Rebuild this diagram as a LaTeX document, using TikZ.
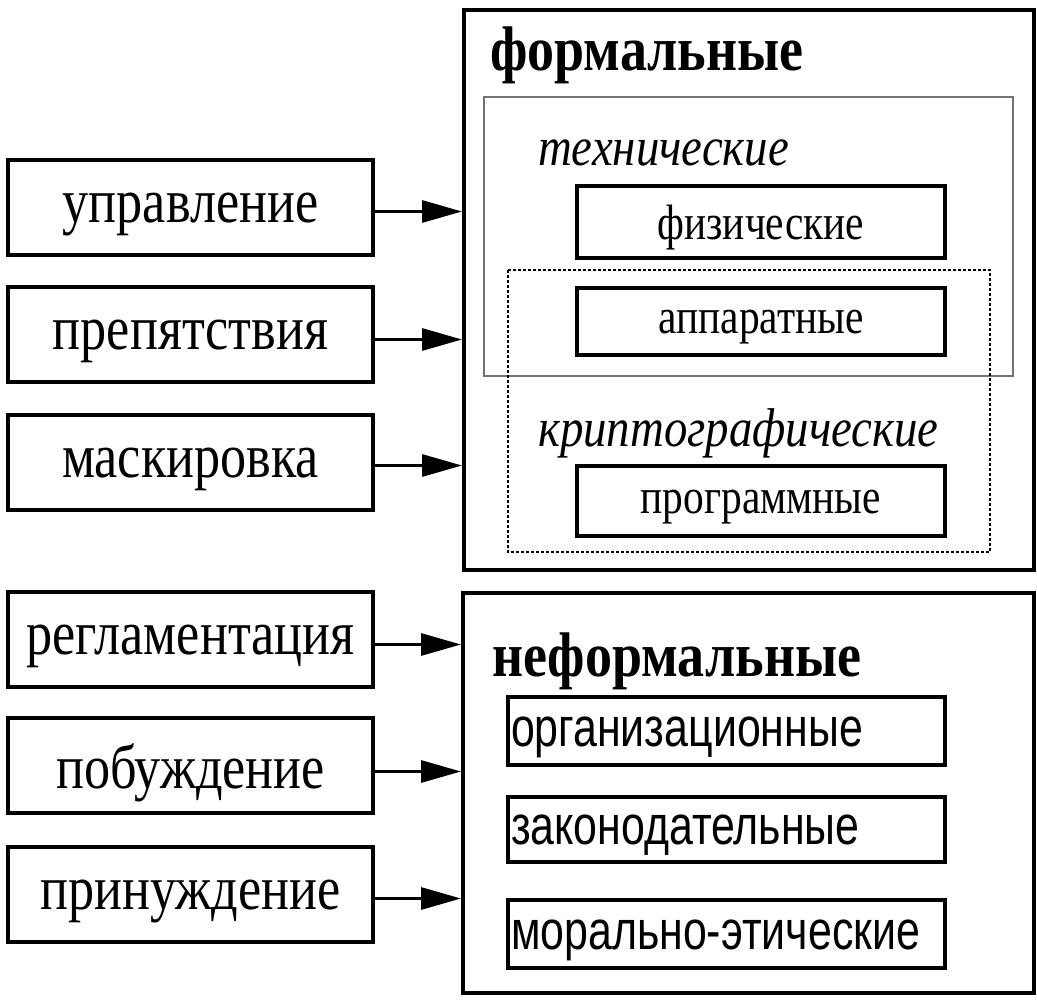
\documentclass[tikz,border=0pt]{standalone}
\usepackage{fontspec}
\setmainfont{Liberation Serif}
\newfontfamily\narrowsans{Liberation Sans}
\usetikzlibrary{arrows.meta}
\newcommand{\lbltxt}[1]{\raisebox{-7pt}[\height][\depth]{\scalebox{0.9}[1.08]{\fontsize{58}{60}\selectfont #1}}}
\newcommand{\innertxt}[1]{\raisebox{-6pt}[\height][\depth]{\scalebox{0.9}[1.08]{\fontsize{46}{48}\selectfont #1}}}
\newcommand{\ttltxt}[1]{\scalebox{0.9}[1.05]{\fontsize{60}{62}\selectfont\bfseries #1}}
\newcommand{\ittxt}[1]{\scalebox{0.9}[1.05]{\fontsize{52}{54}\selectfont\itshape #1}}
\newcommand{\sanstxt}[1]{\raisebox{-6pt}[\height][\depth]{\scalebox{0.78}[1]{\fontsize{55}{57}\selectfont\narrowsans #1}}}
\begin{document}
\begin{tikzpicture}[x=1pt,y=-1pt,
  leftbox/.style={draw,line width=4pt,minimum width=365pt,minimum height=95pt,inner sep=0pt},
  bigbox/.style={draw,line width=4pt,inner sep=0pt},
  innerbox/.style={draw,line width=4pt,minimum width=368pt,inner sep=0pt},
  sansbox/.style={draw,line width=3.5pt,minimum width=437pt,inner sep=0pt},
  grouptech/.style={draw=black!55,line width=1.5pt},
  groupcrypt/.style={draw,line width=2.2pt,dash pattern=on 3pt off 2pt},
  conn/.style={line width=3pt,-{Triangle[length=40pt,width=22pt]}},
  plain/.style={inner sep=0pt,anchor=west}]
\useasboundingbox (0,0) rectangle (1037,1000);
% outer boxes
\node[bigbox,minimum width=570pt,minimum height=560pt] (formal) at (749,290) {};
\node[bigbox,minimum width=571pt,minimum height=400pt] (informal) at (748.5,793) {};
% titles
\node[plain] (tformal) at (490,55) {\ttltxt{формальные}};
\node[plain] (tinformal) at (492,661) {\ttltxt{неформальные}};
% groups
\draw[grouptech] (484,97) rectangle (1013,376);
\draw[groupcrypt] (508,270) rectangle (990,552);
\node[plain] (ttech) at (538,153) {\ittxt{технические}};
\node[plain] (tcrypt) at (538,433) {\ittxt{криптографические}};
% inner boxes formal
\node[innerbox,minimum height=72pt] (phys) at (761,222) {\innertxt{физические}};
\node[innerbox,minimum height=67pt] (hw) at (761,321.5) {\innertxt{аппаратные}};
\node[innerbox,minimum height=70pt] (sw) at (761,501) {\innertxt{программные}};
% inner boxes informal
\node[sansbox,minimum height=68pt,text width=431pt,align=left] (org) at (726.5,731) {\sanstxt{организационные}};
\node[sansbox,minimum height=65pt,text width=431pt,align=left] (law) at (726.5,829.5) {\sanstxt{законодательные}};
\node[sansbox,minimum height=68pt,text width=431pt,align=left] (moral) at (726.5,934) {\sanstxt{морально-этические}};
% left boxes
\node[leftbox] (upr) at (190.5,207.5) {\lbltxt{управление}};
\node[leftbox] (prep) at (190.5,334.5) {\lbltxt{препятствия}};
\node[leftbox] (mask) at (190.5,462.5) {\lbltxt{маскировка}};
\node[leftbox] (regl) at (190.5,639.5) {\lbltxt{регламентация}};
\node[leftbox] (pob) at (190.5,765.5) {\lbltxt{побуждение}};
\node[leftbox] (prin) at (190.5,894.5) {\lbltxt{принуждение}};
% connectors
\draw[conn] ([yshift=-4pt]upr.east) -- ([yshift=-4pt]upr.east -| formal.west);
\draw[conn] ([yshift=-5pt]prep.east) -- ([yshift=-5pt]prep.east -| formal.west);
\draw[conn] ([yshift=-3pt]mask.east) -- ([yshift=-3pt]mask.east -| formal.west);
\draw[conn] ([yshift=-5pt]regl.east) -- ([yshift=-5pt]regl.east -| informal.west);
\draw[conn] ([yshift=-6pt]pob.east) -- ([yshift=-6pt]pob.east -| informal.west);
\draw[conn] ([yshift=-4pt]prin.east) -- ([yshift=-4pt]prin.east -| informal.west);
\end{tikzpicture}
\end{document}
